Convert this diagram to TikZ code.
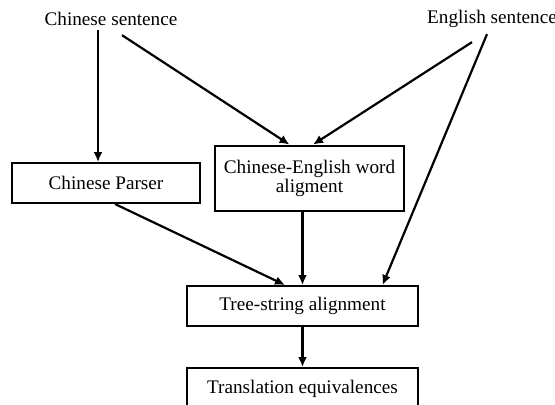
\documentclass[tikz,border=0pt]{standalone}
\usepackage{fontspec}
\setmainfont{Liberation Serif}
\usetikzlibrary{arrows.meta}
\begin{document}
\begin{tikzpicture}[x=0.5pt,y=-0.5pt,>={Latex[length=5pt,width=4.5pt]},
  txt/.style={inner sep=2pt,font=\fontsize{9.6}{9.5}\selectfont},
  box/.style={draw,line width=1pt,inner sep=1pt,align=center,font=\fontsize{9.6}{9.5}\selectfont},
  link/.style={->,line width=1.1pt}]
\useasboundingbox (0,0) rectangle (555,404);
\node[txt] (csent) at (111,19) {Chinese sentence};
\node[txt] (esent) at (492,19) {English sentence};
\node[box,minimum width=94pt,minimum height=20pt] (pars) at (106,183) {Chinese Parser};
\node[box,line width=1.4pt,minimum width=94.5pt,minimum height=32.5pt] (cealign) at (309.5,178.5) {Chinese-English word\\aligment};
\node[box,minimum width=115.5pt,minimum height=20pt] (tree) at (302.5,306) {Tree-string alignment};
\node[box,minimum width=115.5pt,minimum height=21pt] (trans) at (302.5,389) {Translation equivalences};

\draw[link] ([xshift=-6.5pt]csent.south) -- ([xshift=-4pt]pars.north);
\draw[link] ([xshift=5.5pt,yshift=-2.5pt]csent.south) -- ([xshift=-10pt]cealign.north);
\draw[link] ([xshift=-10pt,yshift=-5pt]esent.south) -- ([xshift=1.75pt]cealign.north);
\draw[link] ([xshift=-2.5pt,yshift=-1pt]esent.south) -- ([xshift=40pt]tree.north);
\draw[link] ([xshift=4.5pt]pars.south) -- ([xshift=-8.75pt]tree.north);
\draw[link] (cealign.south -| tree.north) -- (tree.north);
\draw[link] (tree.south) -- (trans.north);

\end{tikzpicture}
\end{document}
